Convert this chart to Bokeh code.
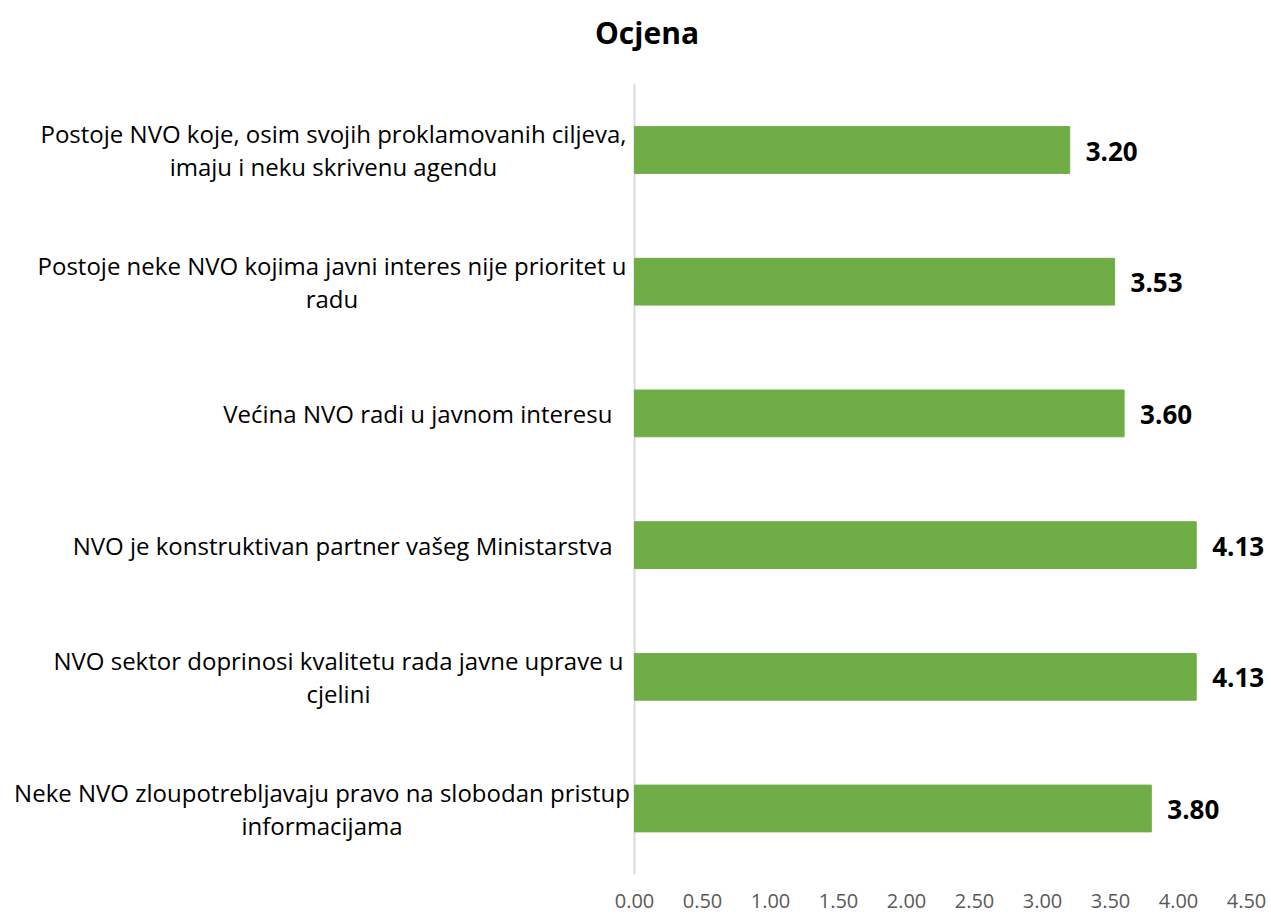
from bokeh.plotting import figure
from bokeh.models import Range1d, ColumnDataSource, FixedTicker, NumeralTickFormatter
from bokeh.core.properties import value
from bokeh.embed import file_html
from bokeh.resources import INLINE

# ---------------- data ----------------
title_text = "Ocjena"
categories = [
    "Postoje NVO koje, osim svojih proklamovanih ciljeva,\nimaju i neku skrivenu agendu",
    "Postoje neke NVO kojima javni interes nije prioritet u\nradu",
    "Većina NVO radi u javnom interesu",
    "NVO je konstruktivan partner vašeg Ministarstva",
    "NVO sektor doprinosi kvalitetu rada javne uprave u\ncjelini",
    "Neke NVO zloupotrebljavaju pravo na slobodan pristup\ninformacijama",
]
scores = [3.20, 3.53, 3.60, 4.13, 4.13, 3.80]
x_ticks = [0.0, 0.5, 1.0, 1.5, 2.0, 2.5, 3.0, 3.5, 4.0, 4.5]

# ---------------- layout constants ----------------
W, H = 1271, 915
FONT = "Open Sans"
BAR = "#70AD47"
px_per_unit_x = 136.0
axis_px = 634.0            # x=0 position inside the figure
px_per_cat = 131.7
first_cat_px = 149.5
frame_bottom_px = 875.0
# horizontal anchor (pixels) of each category label block
single_right_px = 612.0
multi_center_px = [333.0, 331.5, None, None, 338.0, 321.5]

x_start = -axis_px / px_per_unit_x
x_end = (W - axis_px) / px_per_unit_x
y_top = -first_cat_px / px_per_cat
y_bottom = y_top + frame_bottom_px / px_per_cat

idx = list(range(len(categories)))

p = figure(width=W, height=H, output_backend="svg", toolbar_location=None,
           x_range=Range1d(x_start, x_end), y_range=Range1d(y_bottom, y_top),
           y_axis_location=None, min_border_left=0, min_border_right=0,
           min_border_top=0, min_border_bottom=int(H - frame_bottom_px))
p.outline_line_color = None
p.xgrid.grid_line_color = None
p.ygrid.grid_line_color = None
p.background_fill_color = "white"
p.border_fill_color = "white"

# x axis
p.xaxis.ticker = FixedTicker(ticks=x_ticks)
p.xaxis.formatter = NumeralTickFormatter(format="0.00")
p.xaxis.axis_line_color = None
p.xaxis.major_tick_line_color = None
p.xaxis.minor_tick_line_color = None
p.xaxis.major_label_standoff = 12
p.xaxis.major_label_text_font = FONT
p.xaxis.major_label_text_font_size = "20px"
p.xaxis.major_label_text_color = "#595959"

# vertical category axis line
p.segment(x0=[0], x1=[0], y0=[-0.5], y1=[len(categories) - 0.5],
          line_color="#D9D9D9", line_width=2)

# bars
src = ColumnDataSource(dict(y=idx, v=scores, lab=["%.2f" % s for s in scores]))
p.hbar(y="y", left=0, right="v", height=0.355, source=src,
       fill_color=BAR, line_color=BAR)

# value labels
p.text(x="v", y="y", text="lab", source=src, x_offset=16, y_offset=1,
       text_font=value(FONT), text_font_style="bold", text_font_size="26px",
       text_color="black", text_align="left", text_baseline="middle")

# category labels
single = [i for i in idx if "\n" not in categories[i]]
multi = [i for i in idx if "\n" in categories[i]]
p.text(x=[(single_right_px - axis_px) / px_per_unit_x] * len(single), y=single,
       text=[categories[i] for i in single],
       text_font=value(FONT), text_font_size="24px", text_color="black",
       text_align="right", text_baseline="middle")
p.text(x=[(multi_center_px[i] - axis_px) / px_per_unit_x for i in multi], y=multi,
       text=[categories[i] for i in multi],
       text_font=value(FONT), text_font_size="24px", text_color="black",
       text_align="center", text_baseline="middle", text_line_height=1.0)

# title
p.text(x=[(646.5 - axis_px) / px_per_unit_x], y=[y_top + 32 / px_per_cat],
       text=[title_text], text_font=value(FONT), text_font_style="bold",
       text_font_size="30px", text_color="black",
       text_align="center", text_baseline="middle")

open("out.html", "w").write(file_html(p, INLINE))
